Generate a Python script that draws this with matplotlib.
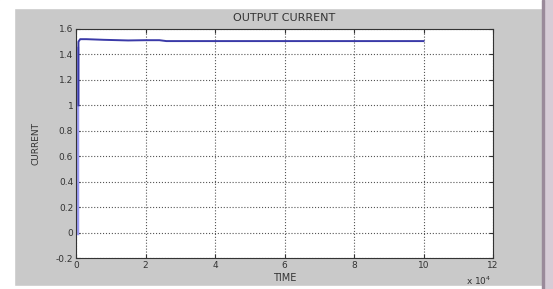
import matplotlib
matplotlib.use("Agg")
import matplotlib.pyplot as plt
from matplotlib.patches import Rectangle

# Data (time in units of 1e4)
rise_t = [0.02, 0.02]
rise_i = [0.0, 1.45]
main_t = [0.07, 0.07, 0.12, 0.3, 0.8, 1.5, 2.0, 2.4, 2.6, 5.0, 8.0, 10.0]
main_i = [1.0, 1.50, 1.52, 1.52, 1.515, 1.51, 1.512, 1.512, 1.505, 1.505, 1.505, 1.505]

xticks = [0, 2, 4, 6, 8, 10, 12]
yticks = [-0.2, 0, 0.2, 0.4, 0.6, 0.8, 1, 1.2, 1.4, 1.6]
ytick_labels = ["-0.2", "0", "0.2", "0.4", "0.6", "0.8", "1", "1.2", "1.4", "1.6"]

W, H = 553, 289
fig = plt.figure(figsize=(W / 100, H / 100), dpi=100)
fig.patch.set_facecolor("#c9c9c9")
# white borders & right panel
fig.patches.append(Rectangle((0, 1 - 8 / H), 1, 8 / H, transform=fig.transFigure, color="white", zorder=0))
fig.patches.append(Rectangle((0, 0), 14 / W, 1, transform=fig.transFigure, color="white", zorder=0))
fig.patches.append(Rectangle((0, 0), 1, 3 / H, transform=fig.transFigure, color="white", zorder=0))
fig.patches.append(Rectangle((543 / W, 0), 10 / W, 1, transform=fig.transFigure, color="#d6ccd6", zorder=0))
fig.patches.append(Rectangle((542 / W, 0), 1.5 / W, 1, transform=fig.transFigure, color="#9a8a9a", zorder=0))

ax = fig.add_axes([76 / W, 1 - 258 / H, (493 - 76) / W, (258 - 29) / H])
ax.set_facecolor("white")
ax.plot(rise_t, rise_i, color="#9a9af2", lw=2.5)
ax.plot(main_t, main_i, color="#3a3aa8", lw=1.4)

ax.set_xlim(0, 12)
ax.set_ylim(-0.2, 1.6)
ax.set_xticks(xticks)
ax.set_xticklabels([str(v) for v in xticks])
ax.set_yticks(yticks)
ax.set_yticklabels(ytick_labels)
ax.tick_params(direction="in", labelsize=6.5, colors="#333333", length=3, pad=2)
ax.tick_params(top=True, right=True)
ax.grid(True, linestyle=":", color="#555555", lw=0.8)
for s in ax.spines.values():
    s.set_color("#333333")
    s.set_linewidth(0.8)

ax.set_title("OUTPUT CURRENT", fontsize=8, color="#333333", pad=6)
ax.set_xlabel("TIME", fontsize=7, color="#333333", labelpad=2)
ax.set_ylabel("CURRENT", fontsize=6.5, color="#333333", labelpad=11)
fig.text(466 / W, 1 - 285 / H, r"x 10$^4$", fontsize=6.5, color="#333333", va="baseline")

fig.savefig("out.png", dpi=100, facecolor=fig.get_facecolor())
